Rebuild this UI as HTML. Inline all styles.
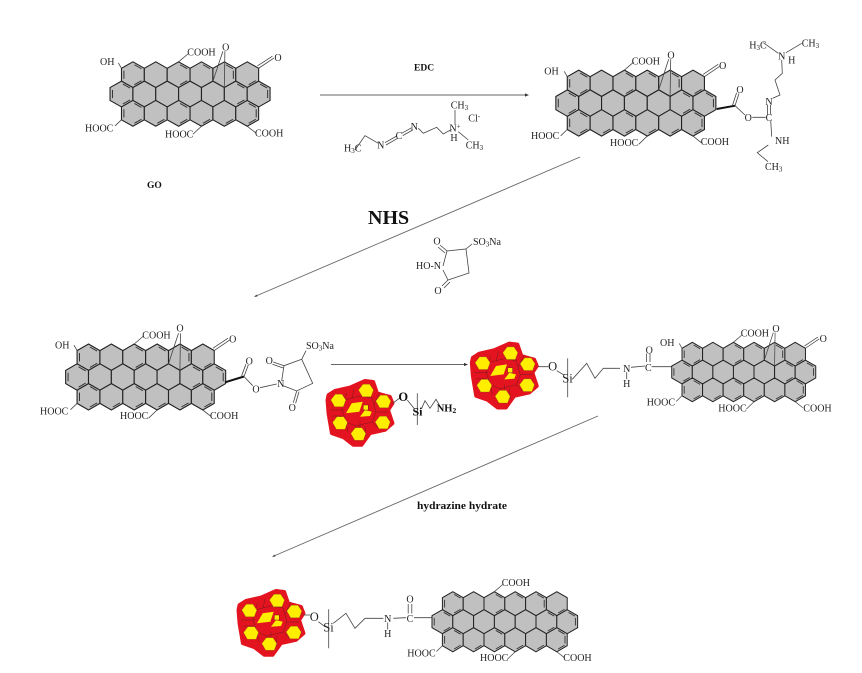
<!DOCTYPE html>
<html><head><meta charset="utf-8"><style>
html,body{margin:0;padding:0;background:#fff}
svg{display:block}
text{font-family:"Liberation Serif",serif;font-size:10px;fill:#222}
.m{text-anchor:middle}
.b{font-weight:bold;fill:#111}
.l{fill:none;stroke:#444;stroke-width:.8}
.a{fill:none;stroke:#666;stroke-width:.9}
.t{fill:none;stroke:#111;stroke-width:2}
</style></head><body>
<svg width="862" height="673" viewBox="0 0 862 673" xmlns="http://www.w3.org/2000/svg">
<defs>
<path id="h" d="M0,-13.2L11.43,-6.6 11.43,6.6 0,13.2 -11.43,6.6 -11.43,-6.6Z" fill="#c0c0c0" stroke="#222" stroke-width="1.1"/>
<path id="e1" d="M1.5,-10.2L8.6,-6.1" stroke="#333" stroke-width="1" fill="none"/>
<path id="e2" d="M9,-4.2L9,4.2" stroke="#333" stroke-width="1" fill="none"/>
<path id="e3" d="M8.6,6.1L1.5,10.2" stroke="#333" stroke-width="1" fill="none"/>
<path id="e4" d="M-1.5,10.2L-8.6,6.1" stroke="#333" stroke-width="1" fill="none"/>
<path id="e5" d="M-9,4.2L-9,-4.2" stroke="#333" stroke-width="1" fill="none"/>
<g id="sheet">
<use href="#h" x="0" y="0"/><use href="#h" x="22.86" y="0"/><use href="#h" x="45.72" y="0"/><use href="#h" x="68.58" y="0"/><use href="#h" x="91.44" y="0"/><use href="#h" x="114.3" y="0"/>
<use href="#h" x="-11.43" y="19.8"/><use href="#h" x="11.43" y="19.8"/><use href="#h" x="34.29" y="19.8"/><use href="#h" x="57.15" y="19.8"/><use href="#h" x="80.01" y="19.8"/><use href="#h" x="102.87" y="19.8"/><use href="#h" x="125.73" y="19.8"/>
<use href="#h" x="0" y="39.6"/><use href="#h" x="22.86" y="39.6"/><use href="#h" x="45.72" y="39.6"/><use href="#h" x="68.58" y="39.6"/><use href="#h" x="91.44" y="39.6"/><use href="#h" x="114.3" y="39.6"/>
<use href="#e1" x="0" y="0"/><use href="#e3" x="0" y="0"/><use href="#e5" x="0" y="0"/>
<use href="#e1" x="45.72" y="0"/><use href="#e3" x="45.72" y="0"/>
<use href="#e1" x="68.58" y="0"/>
<use href="#e1" x="91.44" y="0"/><use href="#e2" x="91.44" y="0"/><use href="#e3" x="114.3" y="0"/>
<use href="#e5" x="-11.43" y="19.8"/><use href="#e3" x="-11.43" y="19.8"/><use href="#e1" x="-11.43" y="19.8"/>
<use href="#e1" x="102.87" y="19.8"/><use href="#e3" x="102.87" y="19.8"/>
<use href="#e2" x="125.73" y="19.8"/><use href="#e1" x="125.73" y="19.8"/>
<use href="#e1" x="0" y="39.6"/><use href="#e3" x="0" y="39.6"/><use href="#e5" x="0" y="39.6"/>
<use href="#e3" x="22.86" y="39.6"/>
<use href="#e1" x="45.72" y="39.6"/><use href="#e3" x="45.72" y="39.6"/>
<use href="#e3" x="68.58" y="39.6"/>
<use href="#e3" x="91.44" y="39.6"/>
<use href="#e1" x="114.3" y="39.6"/><use href="#e2" x="114.3" y="39.6"/><use href="#e3" x="114.3" y="39.6"/>
</g>
<path id="subs" class="l" d="M45.72,-13.2L55,-21.2M-11.43,46.2L-18,52.5M68.58,52.8L60,61M114.3,52.8L122.8,59.5"/>
<g id="ox" class="l">
<path d="M-11.43,-6.6L-14.5,-12"/>
<path d="M80,6.6L90,-24M91.4,13.2L92,-24"/>
<path d="M125.7,-6.6L141,-17M124.5,-9L139.5,-19"/>
</g>
<path id="hex6" d="M-7.5,-1L-3,-6.8 3.6,-6.8 7.5,-1 5,5.8 -3.6,5.8Z" fill="#ffee00" stroke="#7a5a10" stroke-width=".3"/>
<g id="blob">
<path d="M8.3,45L15,40.7 30,37.3 45,30.7 53.3,31.7 57.3,43.3 70,46.7 72.7,53.3 68.3,60 72.7,73.3 65,80 50,83.3 41.7,95 33.3,95 23.3,87.3 11.7,83.3 8.3,63.3 7.3,50Z" fill="#e3141f" stroke="#e3141f" stroke-width="3.5" stroke-linejoin="round"/>
<g fill="none" stroke="#7a1a1c" stroke-width=".5">
<path d="M24,50L40,46 52,48 56,62 52,72 36,76 26,72 22,60Z"/>
<path d="M27,43L24,50M34,39L32,48M24,60H10M22,66H12M26,72L28,82M36,76L34,88M45,76L46,86M52,72L58,78M56,62H68M54,54L60,42M52,48L50,45M40,72V84"/>
</g>
<use href="#hex6" x="18.3" y="51"/><use href="#hex6" x="46" y="41"/><use href="#hex6" x="63.3" y="52"/><use href="#hex6" x="62.7" y="73"/><use href="#hex6" x="38.3" y="84.5"/><use href="#hex6" x="20" y="73.5"/>
<path d="M26,63.3L31.7,53.3 42.7,51.7 39.3,61.7Z" fill="#ffee00"/>
<path d="M40,66.7L45,60 51.7,61.7 50,66Z" fill="#ffee00"/>
<path d="M43.3,55H48.3V60H43.3Z" fill="#ffee00" stroke="#7a1a1c" stroke-width=".5"/>
</g>
</defs>

<!-- arrows -->
<path class="a" d="M320,95H527"/><path d="M529,95l-4,-1.6v3.2z" fill="#333"/>
<path class="a" d="M580,157L256,296"/><path d="M254,297l3.5,-.5l-1,-2z" fill="#444"/>
<path class="a" d="M331,364.5H466"/><path d="M468,364.5l-4,-1.6v3.2z" fill="#333"/>
<path class="a" d="M598,416L274,556"/><path d="M272,557l3.5,-.5l-1,-2z" fill="#444"/>

<text x="414" y="70.7" class="b" style="font-size:9.5px">EDC</text>
<text x="147" y="188" class="b" style="font-size:9.5px">GO</text>
<text x="368" y="224" class="b" style="font-size:20px">NHS</text>
<text x="417" y="509" class="b" style="font-size:10.5px" textLength="90" lengthAdjust="spacingAndGlyphs">hydrazine hydrate</text>

<!-- sheet A -->
<use href="#sheet" transform="translate(132.9,74.7) scale(1,.976)"/>
<use href="#subs" transform="translate(132.9,74.7) scale(1,.976)"/>
<use href="#ox" transform="translate(132.9,74.7) scale(1,.976)"/>
<text x="100" y="65">OH</text><text x="187.3" y="55.7">COOH</text><text x="225.7" y="50.5" class="m">O</text><text x="278" y="61" class="m">O</text>
<text x="85" y="131.7">HOOC</text><text x="165" y="137.3">HOOC</text><text x="255" y="136.7">COOH</text>

<!-- EDC molecule -->
<path class="l" d="M355,150L365,135.7 378.3,143.3M385,142.7L396.7,136M386,145L397.7,138.3M401.7,133.3L411.7,127.7M402.7,135.6L412.7,130M418.3,128.3L423.3,133.3 436.7,127.3 443.3,134 451.7,129.3M455,110V124.3M458.3,131.7L468.3,140"/>
<text x="344" y="151.7">H<tspan dy="1.5" style="font-size:7px">3</tspan><tspan dy="-1.5">C</tspan></text>
<text x="380.7" y="148.5" class="m">N</text><text x="399" y="139" class="m">C</text><text x="414.3" y="130" class="m">N</text>
<text x="455" y="131.5" class="m">N<tspan dy="-3" style="font-size:7px">+</tspan></text><text x="454" y="141" class="m">H</text>
<text x="450.7" y="108.3">CH<tspan dy="1.5" style="font-size:7px">3</tspan></text>
<text x="465.7" y="148.3">CH<tspan dy="1.5" style="font-size:7px">3</tspan></text>
<text x="468.3" y="121.7">Cl<tspan dy="-3" style="font-size:7px">-</tspan></text>

<!-- sheet B -->
<use href="#sheet" transform="translate(578.7,83.3)"/>
<use href="#subs" transform="translate(578.7,83.3)"/>
<use href="#ox" transform="translate(578.7,83.3)"/>
<text x="544.3" y="74.3">OH</text><text x="631.7" y="64.3">COOH</text><text x="671" y="58.5" class="m">O</text><text x="722.7" y="69" class="m">O</text>
<text x="531" y="139">HOOC</text><text x="610" y="146">HOOC</text><text x="700.7" y="145">COOH</text>
<path class="t" d="M716.7,109L735,105.7"/>
<path class="l" d="M735,105.7L739,93.5M732.6,105L736.6,92.8M735,105.7L745,115M752.3,117.3H765.7M770.7,120.7L771.7,136.7M767.5,114.5V105M770.5,114.5V105M768.3,145L757.3,152.7 768,161.7M772.7,98.3L780,95 775,80 782.3,73.3 781.7,60M763.3,42.7L778.3,53.3M786,52.7L801.7,43.3"/>
<text x="740" y="93" class="m">O</text><text x="748.3" y="121" class="m">O</text><text x="769" y="121" class="m">C</text><text x="769" y="105" class="m">N</text>
<text x="775" y="144">NH</text>
<text x="765" y="170">CH<tspan dy="1.5" style="font-size:7px">3</tspan></text>
<text x="781.7" y="59.5" class="m">N</text><text x="791.7" y="63.5" class="m">H</text>
<text x="749.3" y="48.3">H<tspan dy="1.5" style="font-size:7px">3</tspan><tspan dy="-1.5">C</tspan></text>
<text x="801.7" y="46.7">CH<tspan dy="1.5" style="font-size:7px">3</tspan></text>

<!-- sulfo-NHS -->
<path class="l" d="M443,266L447,251 466,249 469,273 448,280 443,270M447,251L440,245M445,253L438,247M448,280L442,286M450,282L444,288M466,249L472,244"/>
<text x="437" y="244.5" class="m">O</text>
<text x="473" y="245">SO<tspan dy="1.5" style="font-size:7px">3</tspan><tspan dy="-1.5">Na</tspan></text>
<text x="416" y="269">HO-N</text>
<text x="438" y="294" class="m">O</text>

<!-- sheet C -->
<use href="#sheet" transform="translate(88.5,357.2)"/>
<use href="#subs" transform="translate(88.5,357.2)"/>
<use href="#ox" transform="translate(88.5,357.2)"/>
<text x="55" y="348.3">OH</text><text x="142.3" y="338.3">COOH</text><text x="180" y="331.5" class="m">O</text><text x="232.7" y="342.5" class="m">O</text>
<text x="40" y="414.3">HOOC</text><text x="120" y="419">HOOC</text><text x="210" y="419">COOH</text>
<path class="t" d="M225,382.3L244,376.5"/>
<path class="l" d="M244,376.5L248.3,365M241.6,375.8L245.9,364.3M244,376.5L252.7,385.7M260,387.7L276.7,384M281.7,380.7L284,365.7 301.7,359.3 312.7,383.3 296.7,391 283.3,385.7M284,365.7L273.3,362M283.2,368L272.5,364.3M296.7,391L293.3,402.7M299,391.7L295.6,403.4M301.7,359.3L306,350.7"/>
<text x="249.3" y="364.5" class="m">O</text><text x="256" y="392.5" class="m">O</text><text x="280.7" y="386.8" class="m">N</text>
<text x="269.3" y="364" class="m">O</text><text x="292.3" y="411" class="m">O</text>
<text x="306" y="349">SO<tspan dy="1.5" style="font-size:7px">3</tspan><tspan dy="-1.5">Na</tspan></text>

<!-- blob 1 -->
<use href="#blob" x="320" y="350"/>
<path class="l" d="M392.7,403.3L399.3,398.3M407.3,400L414,408.3M417.3,393.3V425M421.7,408.3L425,400.7 430,408.3 436,399.3 439.3,405"/>
<text x="403.3" y="401" class="m b" style="font-size:12.5px">O</text>
<text x="417.5" y="415.5" class="m b" style="font-size:12px">Si</text>
<text x="436.7" y="411.7" class="b" style="font-size:10.5px">NH<tspan dy="1.5" style="font-size:7.5px">2</tspan></text>

<!-- blob 2 -->
<use href="#blob" x="464.3" y="312.7"/>
<path class="l" d="M538.3,366.7H548.3M556.7,370.7L564,375M567.7,358.3V397.3M572.3,379.3L586.7,363.3 595,378.3 603.3,368.3 620,368.3M626.7,372.3V379.3M631,367.3L645,366M646.5,362V353.5M650,362V353.5M651.7,366.7H671.7"/>
<text x="552.7" y="370.5" class="m" style="font-size:12.5px">O</text>
<text x="562.3" y="382.7" style="font-size:12.5px">Si</text>
<text x="626.7" y="372" class="m">N</text><text x="626.7" y="387" class="m">H</text>
<text x="648.3" y="370.8" class="m">C</text><text x="649.3" y="353.5" class="m">O</text>

<!-- sheet D -->
<use href="#sheet" transform="translate(692.3,354.2) scale(.9,.9)"/>
<use href="#subs" transform="translate(692.3,354.2) scale(.9,.9)"/>
<use href="#ox" transform="translate(692.3,354.2) scale(.9,.9)"/>
<text x="660" y="346">OH</text><text x="740.7" y="336.7">COOH</text><text x="776" y="331.8" class="m">O</text><text x="823.3" y="341.8" class="m">O</text>
<text x="646.7" y="405.7">HOOC</text><text x="718.3" y="411.3">HOOC</text><text x="803.3" y="411.3">COOH</text>

<!-- blob 3 -->
<use href="#blob" x="231" y="560"/>
<path class="l" d="M303.3,615H310M318.3,621.7L325,626.7M328.7,609.3V648.3M333.3,623.3L346,613.3 355,628.3 365,618.3 383.3,618.3M387.7,622.5V629.5M393.3,618.3L406,617.7M408.2,613.5V604M411.8,613.5V604M414,617.7H432"/>
<text x="314.3" y="621" class="m" style="font-size:12.5px">O</text>
<text x="323.3" y="631.7" style="font-size:12.5px">Si</text>
<text x="387.7" y="622" class="m">N</text><text x="387.7" y="637" class="m">H</text>
<text x="410" y="621.8" class="m">C</text><text x="410" y="602.5" class="m">O</text>

<!-- sheet E -->
<use href="#sheet" transform="translate(452.8,603.7) scale(.91,.91)"/>
<use href="#subs" transform="translate(452.8,603.7) scale(.91,.91)"/>
<text x="501.7" y="586">COOH</text>
<text x="407.3" y="656.7">HOOC</text><text x="480" y="661">HOOC</text><text x="563.3" y="661">COOH</text>
</svg>
</body></html>
